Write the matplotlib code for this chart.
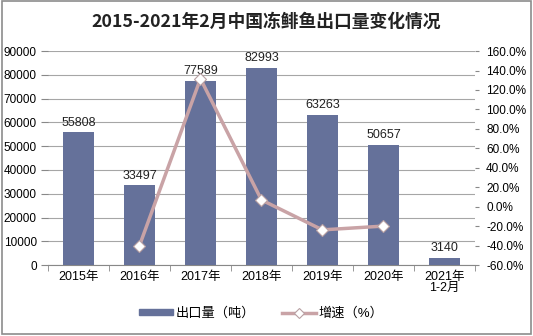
import matplotlib.pyplot as plt
from matplotlib.ticker import FuncFormatter

plt.rcParams['font.family'] = ['Liberation Sans', 'Noto Sans CJK SC', 'DejaVu Sans']

years = ['2015年', '2016年', '2017年', '2018年', '2019年', '2020年', '2021年\n1-2月']
exports = [55808, 33497, 77589, 82993, 63263, 50657, 3140]
growth = [None, -40.0, 131.6, 7.0, -23.8, -19.9, None]

bar_color = '#65719A'
line_color = '#C9A3A6'
grid_color = '#A6A6A6'

fig = plt.figure(figsize=(5.33, 3.36), dpi=100)
ax = fig.add_axes([0.090, 0.211, 0.801, 0.637])

x = list(range(len(years)))
ax.bar(x, exports, width=0.5, color=bar_color, zorder=3)
for xi, v in zip(x, exports):
    ax.text(xi, v + 1500, str(v), ha='center', va='bottom', fontsize=9,
            color='#222222', zorder=5)

ax.set_xlim(-0.5, len(years) - 0.5)
ax.set_ylim(0, 90000)
ax.set_yticks(range(0, 90001, 10000))
ax.yaxis.grid(True, color=grid_color, linewidth=0.8, zorder=0)
ax.set_xticks(x)
ax.set_xticklabels(years, fontsize=9, linespacing=0.95)
ax.set_xticks([i - 0.5 for i in range(len(years) + 1)], minor=True)
ax.tick_params(axis='x', which='major', length=0, pad=4)
ax.tick_params(axis='x', which='minor', length=4, color='#888888')
ax.tick_params(axis='y', length=5, color='#888888', labelsize=8.5, pad=3)
for side in ['top', 'right', 'left']:
    ax.spines[side].set_visible(False)
ax.spines['bottom'].set_color('#888888')

ax2 = ax.twinx()
gx = [i for i, g in zip(x, growth) if g is not None]
gy = [g for g in growth if g is not None]
ax2.plot(gx, gy, color=line_color, linewidth=2.5, marker='D', markersize=6,
         markerfacecolor='white', markeredgecolor='#B8A0A3', markeredgewidth=0.8,
         zorder=4)
ax2.set_ylim(-60, 160)
ax2.set_yticks(range(-60, 161, 20))
ax2.yaxis.set_major_formatter(FuncFormatter(lambda v, p: f'{v:.1f}%'))
ax2.tick_params(axis='y', length=3, color='#888888', labelsize=8.5, pad=5)
for side in ['top', 'right', 'left', 'bottom']:
    ax2.spines[side].set_visible(False)

fig.text(0.5, 0.935, '2015-2021年2月中国冻鲱鱼出口量变化情况', ha='center', va='center',
         fontsize=12.8, fontweight='bold', color='#222222',
         family=['Noto Sans CJK SC', 'DejaVu Sans'])

h1 = plt.Rectangle((0, 0), 1, 1, color=bar_color)
h2 = plt.Line2D([], [], color=line_color, linewidth=2.5, marker='D', markersize=5,
                markerfacecolor='white', markeredgecolor='#B8A0A3', markeredgewidth=0.8)
fig.legend([h1, h2], ['出口量（吨）', '增速（%）'], loc='center', bbox_to_anchor=(0.49, 0.068),
           ncol=2, frameon=False, fontsize=9.5, handlelength=2.6, handleheight=0.35,
           columnspacing=2.0, handletextpad=0.2)

fig.patches.append(plt.Rectangle((0.004, 0.006), 0.992, 0.99, transform=fig.transFigure,
                                 fill=False, edgecolor='#8C8C8C', linewidth=1.2))

fig.savefig('out.png', dpi=100)
